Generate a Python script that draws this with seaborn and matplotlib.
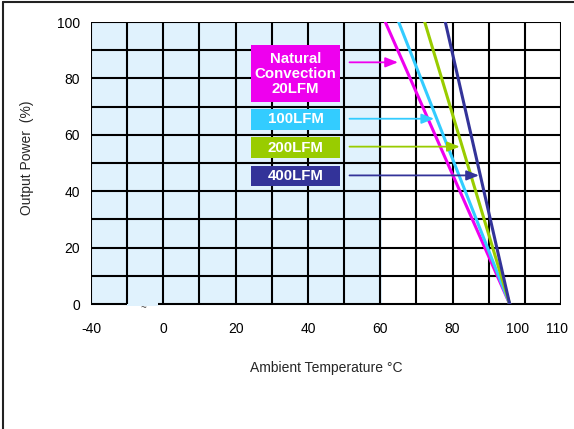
"""Output power derating curve vs ambient temperature"""

import matplotlib
matplotlib.use("Agg")
import pandas as pd
import seaborn as sns
from matplotlib import pyplot as plt
from matplotlib.lines import Line2D
from matplotlib.patches import Rectangle

# Data
airflow = ["Natural Convection 20LFM", "100LFM", "200LFM", "400LFM"]
box_labels = ["Natural\nConvection\n20LFM", "100LFM", "200LFM", "400LFM"]
full_power_temp = [61.4, 65.1, 72.3, 78.0]   # degC where output is still 100%
zero_power_temp = [95.8, 95.8, 95.8, 95.8]   # degC where output reaches 0%
power_levels = [100, 0]
colors = ["#EE00EE", "#33CCFF", "#99CC00", "#333399"]

# x axis is broken: -40 degC is drawn at position -20
xtick_pos = [-20, 0, 20, 40, 60, 80, 98, 109]
xtick_labels = ["-40", "0", "20", "40", "60", "80", "100", "110"]
yticks = [0, 20, 40, 60, 80, 100]

df = pd.concat([
    pd.DataFrame({
        "temp": [t_full, t_zero],
        "power": power_levels,
        "airflow": name,
    })
    for name, t_full, t_zero in zip(airflow, full_power_temp, zero_power_temp)
])

sns.set_theme(style="white")
plt.rcParams["font.family"] = ["Liberation Sans", "DejaVu Sans"]

fig = plt.figure(figsize=(5.74, 4.29), dpi=100)
ax = fig.add_axes([91 / 574, 1 - 304 / 429, 470 / 574, 282 / 429])
ax.set_xlim(-20, 110)
ax.set_ylim(0, 100)

# shaded operating region
ax.axvspan(-20, 60.5, color="#E0F2FD", zorder=0, lw=0)
ax.fill_between([-10, -1.5], -0.7, 0, color="#E0F2FD", lw=0, clip_on=False, zorder=0)

# grid
for gx in range(-20, 111, 10):
    ax.axvline(gx, color="black", lw=1.5, zorder=1)
for gy in range(10, 101, 10):
    ax.axhline(gy, color="black", lw=1.5, zorder=1)
ax.hlines(0, -20, -10, color="black", lw=1.5, zorder=1, clip_on=False)
ax.hlines(0, -1.5, 110, color="black", lw=1.5, zorder=1, clip_on=False)
ax.text(-5.5, -1.4, "~", fontsize=7, color="#444444", ha="center", va="center")
for s in ax.spines.values():
    s.set_visible(False)

sns.lineplot(data=df, x="temp", y="power", hue="airflow", palette=colors,
             lw=2.2, legend=False, ax=ax, zorder=3)

# labelled boxes with arrows (box bottom, box top in % units)
box_x = (24.2, 48.9)
box_y = [(71.5, 91.7), (61.6, 69.3), (51.6, 59.3), (41.7, 49.1)]
arrow_y = [85.7, 65.7, 55.8, 45.6]
arrow_end = [64.9, 74.9, 82.0, 87.3]
for label, col, (y0, y1), ay, x_end in zip(box_labels, colors, box_y, arrow_y, arrow_end):
    ax.add_patch(Rectangle((box_x[0], y0), box_x[1] - box_x[0], y1 - y0,
                           fc=col, ec="none", zorder=5))
    ax.text(sum(box_x) / 2, (y0 + y1) / 2, label, color="white", fontsize=10.8,
            fontweight="bold", ha="center", va="center", linespacing=1.1, zorder=6)
    ax.annotate("", xy=(x_end, ay), xytext=(51.5, ay), zorder=5,
                arrowprops=dict(arrowstyle="-|>,head_length=0.75,head_width=0.3",
                                mutation_scale=10, color=col, lw=1.3,
                                shrinkA=0, shrinkB=0))

ax.set_xticks(xtick_pos, xtick_labels)
ax.set_yticks(yticks)
ax.tick_params(axis="x", length=0, pad=13, labelsize=10, colors="black")
ax.tick_params(axis="y", length=0, pad=8, labelsize=10, colors="black")
ax.set_xlabel("Ambient Temperature °C", fontsize=10, labelpad=18)
ax.set_ylabel("")
fig.text(27 / 574, 1 - 158 / 429, "Output Power  (%)", rotation=90,
         ha="center", va="center", fontsize=10)

# outer frame (left and top edges)
fig.add_artist(Line2D([0.005, 0.005], [0, 0.995], transform=fig.transFigure, color="#222222", lw=1.5))
fig.add_artist(Line2D([0.005, 1], [0.995, 0.995], transform=fig.transFigure, color="#222222", lw=1.5))

fig.savefig("out.png", dpi=100)
